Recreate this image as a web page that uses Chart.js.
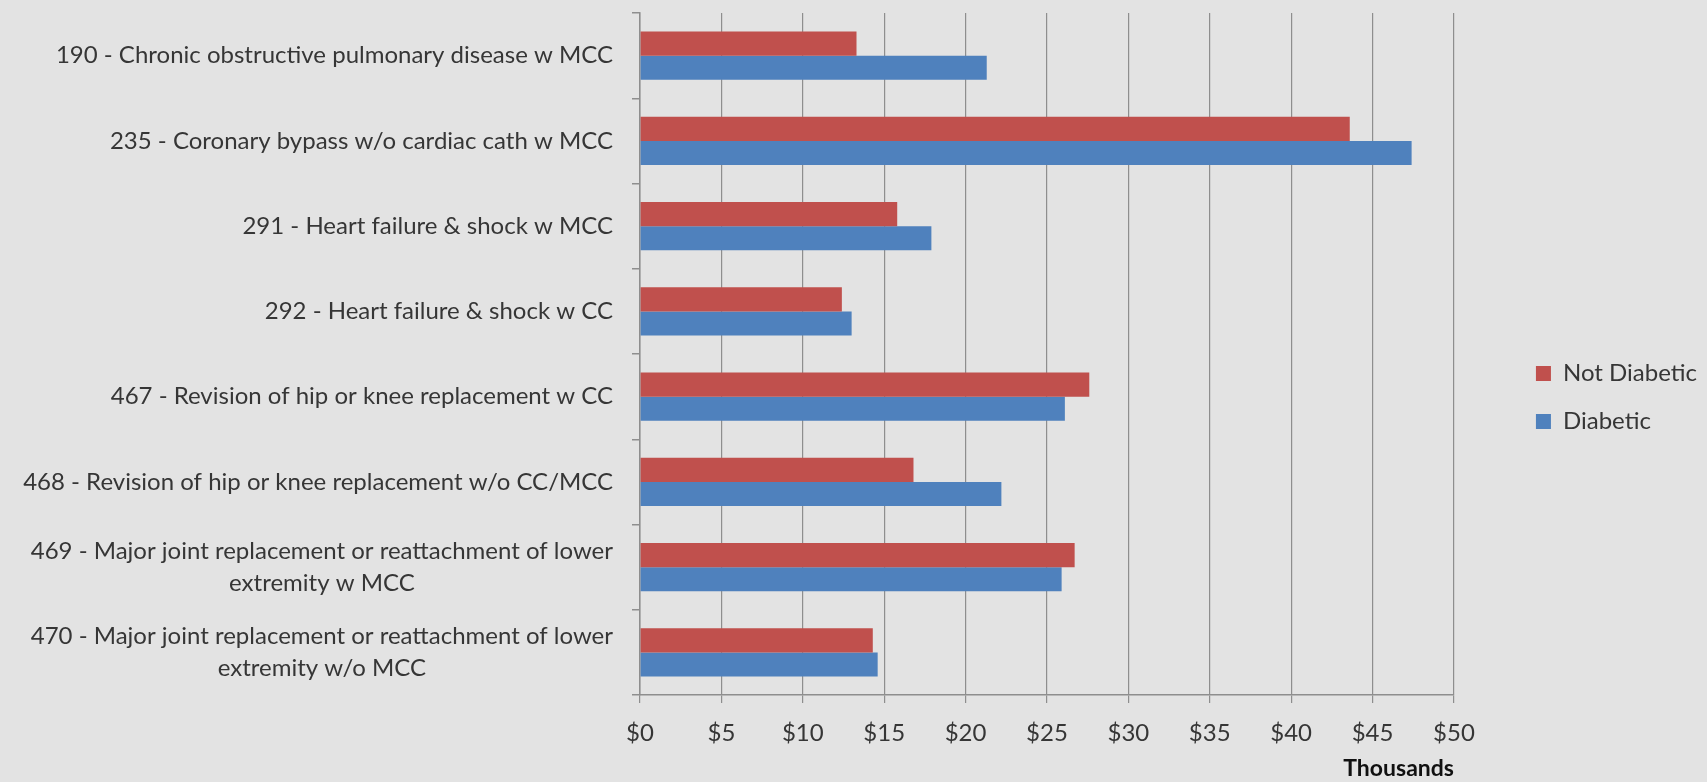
<!DOCTYPE html>
<html>
<head>
<meta charset="utf-8">
<script src="https://cdn.jsdelivr.net/npm/chart.js@4.4.1/dist/chart.umd.min.js"></script>
<style>
  html, body { margin: 0; padding: 0; background: #e3e3e3; }
</style>
</head>
<body>
<canvas id="Chart1" width="1707" height="782"></canvas>
<script>

const categories = [
    ['190 - Chronic obstructive pulmonary disease w MCC'],
    ['235 - Coronary bypass w/o cardiac cath w MCC'],
    ['291 - Heart failure & shock w MCC'],
    ['292 - Heart failure & shock w CC'],
    ['467 - Revision of hip or knee replacement w CC'],
    ['468 - Revision of hip or knee replacement w/o CC/MCC'],
    ['469 - Major joint replacement or reattachment of lower', 'extremity w MCC'],
    ['470 - Major joint replacement or reattachment of lower', 'extremity w/o MCC']
];

// thousands of dollars
const notDiabetic = [13.3, 43.6, 15.8, 12.4, 27.6, 16.8, 26.7, 14.3];
const diabetic = [21.3, 47.4, 17.9, 13.0, 26.1, 22.2, 25.9, 14.6];

const tickLabels = ['$0', '$5', '$10', '$15', '$20', '$25', '$30', '$35', '$40', '$45', '$50'];

const textColor = '#363636';
const gridColor = '#8e8e8e';
const labelFont = '24px Lato';

// Excel style category labels: right aligned, extra lines centred under the first
const yLabels = {
    id: 'yLabels',
    afterDraw(chart) {
        const ctx = chart.ctx;
        const scale = chart.scales.y;
        const right = scale.right - 8 - 19;
        const lineGap = 31.5;
        ctx.save();
        ctx.font = labelFont;
        ctx.fillStyle = textColor;
        ctx.textBaseline = 'middle';
        ctx.textAlign = 'center';
        categories.forEach((lines, i) => {
            const cy = scale.getPixelForValue(i);
            const widest = Math.max(...lines.map(l => ctx.measureText(l).width));
            const top = cy - (lines.length - 1) * lineGap / 2;
            lines.forEach((line, k) => {
                ctx.fillText(line, right - widest / 2, top + k * lineGap);
            });
        });
        ctx.restore();
    }
};

function GenerateChart(ctx) {

    new Chart(ctx, {
        type: 'bar',
        data: {
            labels: categories,
            datasets: [
                {
                    label: 'Not Diabetic',
                    data: notDiabetic,
                    backgroundColor: '#c0504d',
                    borderWidth: 0
                },
                {
                    label: 'Diabetic',
                    data: diabetic,
                    backgroundColor: '#4f81bd',
                    borderWidth: 0
                }
            ]
        },
        options: {
            indexAxis: 'y',
            responsive: false,
            animation: false,
            devicePixelRatio: 1,
            categoryPercentage: 0.567,
            barPercentage: 1.0,
            layout: {
                padding: { top: 13, left: 0, right: 0, bottom: 0 }
            },
            scales: {
                x: {
                    min: 0,
                    max: 50,
                    ticks: {
                        stepSize: 5,
                        padding: 16,
                        color: textColor,
                        font: { family: 'Lato', size: 24 },
                        callback: (v, i) => tickLabels[i]
                    },
                    grid: { color: gridColor, tickLength: 8, lineWidth: 1.2 },
                    border: { color: gridColor, width: 1.5 },
                    title: {
                        display: true,
                        text: 'Thousands',
                        align: 'end',
                        color: '#111',
                        font: { family: 'Lato', size: 23, weight: 'bold' },
                        padding: { top: 0, bottom: 0 }
                    },
                    afterFit(s) { s.height = 87; }
                },
                y: {
                    position: 'left',
                    ticks: { display: false },
                    grid: { drawOnChartArea: false, tickLength: 8, color: gridColor, lineWidth: 1.5 },
                    border: { color: gridColor, width: 1.5 },
                    afterFit(s) { s.width = 640; }
                },
                gap: {
                    type: 'category',
                    position: 'right',
                    ticks: { display: false },
                    grid: { display: false },
                    border: { display: false },
                    afterFit(s) { s.width = 58; }
                }
            },
            plugins: {
                legend: {
                    position: 'right',
                    labels: {
                        boxWidth: 15,
                        boxHeight: 15,
                        padding: 24,
                        color: textColor,
                        font: { family: 'Lato', size: 24 }
                    }
                },
                tooltip: { enabled: false }
            }
        },
        plugins: [yLabels]
    });

}

GenerateChart(document.getElementById('Chart1'));
</script>
</body>
</html>
